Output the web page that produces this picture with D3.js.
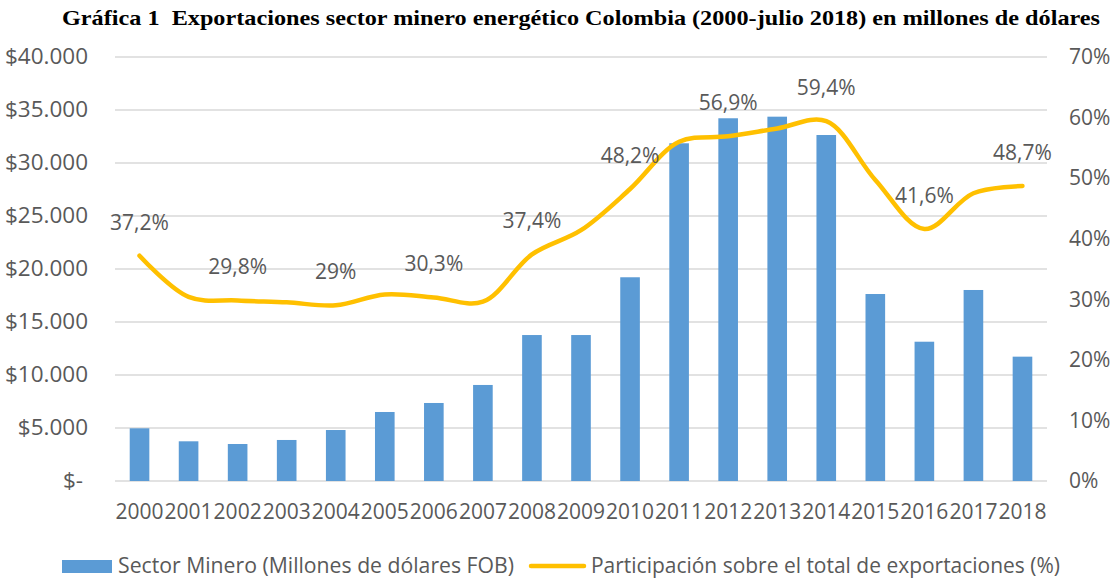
<!DOCTYPE html>
<html lang="es">
<head>
<meta charset="utf-8">
<title>Exportaciones sector minero energético</title>
<script src="https://cdn.jsdelivr.net/npm/d3@7"></script>
<style>
  body { margin: 0; background: #fff; }
  svg text { font-family: "Open Sans", sans-serif; fill: #595959; }
</style>
</head>
<body>
<script>
// data
var years = ["2000","2001","2002","2003","2004","2005","2006","2007","2008","2009",
             "2010","2011","2012","2013","2014","2015","2016","2017","2018"];
var exportsFob = [4970, 3745, 3490, 3870, 4810, 6510, 7360, 9060, 13770, 13770,
                  19220, 31860, 34220, 34370, 32640, 17640, 13140, 18020, 11730];
var share = [37.2, 30.4, 29.8, 29.5, 29.0, 30.8, 30.3, 29.6, 37.4, 41.4,
             48.2, 56.0, 56.9, 58.2, 59.4, 49.7, 41.6, 47.5, 48.7];
var labelledYears = ["2000","2002","2004","2006","2008","2010","2012","2014","2016","2018"];
var leftTicks = [0, 5000, 10000, 15000, 20000, 25000, 30000, 35000, 40000];
var rightTicks = [0, 10, 20, 30, 40, 50, 60, 70];

var W = 1113, H = 578;
// plot area (note: "top" is reserved on window, so use p* names)
var pLeft = 115, pRight = 1047, pTop = 57, pBottom = 481;
var blue = "#5B9BD5", yellow = "#FFC000";

var loc = d3.formatLocale({decimal: ",", thousands: ".", grouping: [3], currency: ["$", ""]});
var fmtMoney = loc.format("$,.0f");
function fmtPct(v) {
    return (Number.isInteger(v) ? v : v.toFixed(1).replace(".", ",")) + "%";
}

var svg = d3.select("body").append("svg").attr("width", W).attr("height", H);

var x = d3.scaleBand().domain(years).range([pLeft, pRight]).paddingInner(0.6).paddingOuter(0.3);
var xLab = d3.scaleBand().domain(years).range([pLeft, pRight]).padding(0);
var yL = d3.scaleLinear().domain([0, 40000]).range([pBottom, pTop]);
var yR = d3.scaleLinear().domain([0, 70]).range([pBottom, pTop]);

// gridlines
svg.append("g").selectAll("line")
    .data(leftTicks)
    .enter().append("line")
    .attr("x1", pLeft).attr("x2", pRight)
    .attr("y1", function(d){ return yL(d); })
    .attr("y2", function(d){ return yL(d); })
    .attr("stroke", "#D9D9D9").attr("stroke-width", 1.3);

// left axis
var gL = svg.append("g").attr("transform", "translate(" + pLeft + ",0)")
    .call(d3.axisLeft(yL).tickValues(leftTicks).tickSize(0).tickPadding(27)
        .tickFormat(function(d){ return d === 0 ? "$-" : fmtMoney(d); }));
gL.select(".domain").remove();
gL.selectAll("text").attr("font-size", 21).attr("font-family", null).attr("fill", null)
    .each(function(){
        // the reference labels are a touch wider than Open Sans
        d3.select(this).attr("textLength", this.getComputedTextLength() * 1.07)
            .attr("lengthAdjust", "spacingAndGlyphs");
    })
    .filter(function(d){ return d === 0; }).attr("x", -32);

// right axis
var gR = svg.append("g").attr("transform", "translate(" + pRight + ",0)")
    .call(d3.axisRight(yR).tickValues(rightTicks).tickSize(0).tickPadding(22)
        .tickFormat(function(d){ return d + "%"; }));
gR.select(".domain").remove();
gR.selectAll("text").attr("font-size", 21).attr("font-family", null).attr("fill", null);

// x axis
var gX = svg.append("g").attr("transform", "translate(0," + pBottom + ")")
    .call(d3.axisBottom(xLab).tickSize(0).tickPadding(23));
gX.select(".domain").remove();
gX.selectAll("text").attr("font-size", 21).attr("font-family", null).attr("fill", null);

// bars
svg.append("g").selectAll("rect")
    .data(exportsFob)
    .enter().append("rect")
    .attr("x", function(d, i){ return x(years[i]); })
    .attr("y", function(d){ return yL(d); })
    .attr("width", x.bandwidth())
    .attr("height", function(d){ return pBottom - yL(d); })
    .attr("fill", blue);

// share line
var line = d3.line()
    .x(function(d, i){ return xLab(years[i]) + xLab.bandwidth() / 2; })
    .y(function(d){ return yR(d); })
    .curve(d3.curveCatmullRom.alpha(0.5));

svg.append("path")
    .datum(share)
    .attr("d", line)
    .attr("fill", "none")
    .attr("stroke", yellow)
    .attr("stroke-width", 4.5)
    .attr("stroke-linecap", "round");

// data labels
svg.append("g").selectAll("text")
    .data(labelledYears)
    .enter().append("text")
    .attr("x", function(d){ return xLab(d) + xLab.bandwidth() / 2; })
    .attr("y", function(d){ return yR(share[years.indexOf(d)]) - 26; })
    .attr("text-anchor", "middle")
    .attr("font-size", 21)
    .text(function(d){ return fmtPct(share[years.indexOf(d)]); });

// title
svg.append("text")
    .attr("x", 62).attr("y", 25)
    .attr("textLength", 1038).attr("lengthAdjust", "spacingAndGlyphs")
    .style("font-family", "'Liberation Serif', 'Times New Roman', serif")
    .style("fill", "#000")
    .style("white-space", "pre")
    .attr("font-weight", "bold")
    .attr("font-size", 22)
    .text("Gráfica 1  Exportaciones sector minero energético Colombia (2000-julio 2018) en millones de dólares");

// legend
var leg = svg.append("g");
leg.append("rect").attr("x", 62).attr("y", 560).attr("width", 50).attr("height", 13).attr("fill", blue);
leg.append("text").attr("x", 118).attr("y", 573).attr("font-size", 21)
    .attr("textLength", 396).attr("lengthAdjust", "spacingAndGlyphs")
    .text("Sector Minero (Millones de dólares FOB)");
leg.append("line").attr("x1", 531).attr("x2", 584).attr("y1", 566).attr("y2", 566)
    .attr("stroke", yellow).attr("stroke-width", 4.5).attr("stroke-linecap", "round");
leg.append("text").attr("x", 591).attr("y", 573).attr("font-size", 21)
    .attr("textLength", 469).attr("lengthAdjust", "spacingAndGlyphs")
    .text("Participación sobre el total de exportaciones (%)");
</script>
</body>
</html>
